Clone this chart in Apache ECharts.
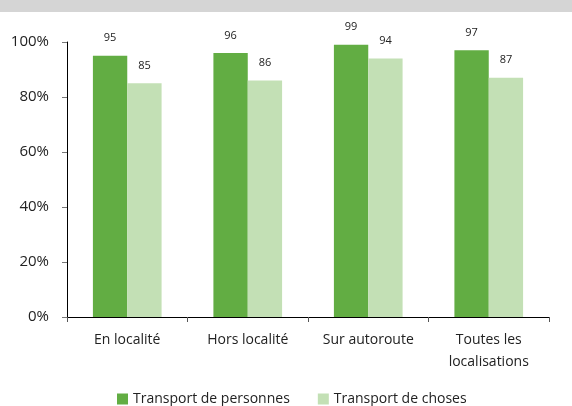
<!DOCTYPE html>
<html>
<head>
<meta charset="utf-8">
<script src="https://cdn.jsdelivr.net/npm/echarts@6/dist/echarts.min.js"></script>
<style>
  html, body { margin: 0; padding: 0; background: #fff; }
  #topBand { position: absolute; left: 0; top: 0; width: 572px; height: 12px; background: #d5d5d5; }
  #chart { width: 572px; height: 406px; }
</style>
</head>
<body>
<div id="topBand"></div>
<div id="chart"></div>
<script>
// catégories et valeurs (en %)
const categories = ['En localité', 'Hors localité', 'Sur autoroute', 'Toutes les\nlocalisations']
const personnes = [95, 96, 99, 97]
const choses = [85, 86, 94, 87]
const yTicks = [0, 20, 40, 60, 80, 100]

const font = 'Open Sans'
const chart = echarts.init(document.getElementById('chart'))

const labelStyle = {
  show: true,
  position: 'top',
  distance: 12,
  fontFamily: font,
  fontSize: 11,
  color: '#222'
}

chart.setOption({
  animation: false,
  grid: { left: 67, right: 23, top: 42, bottom: 89 },
  legend: {
    top: 387,
    left: 112,
    itemWidth: 11,
    itemHeight: 11,
    itemGap: 28,
    icon: 'rect',
    textStyle: { fontFamily: font, fontSize: 14, color: '#222' },
    data: ['Transport de personnes', 'Transport de choses']
  },
  xAxis: {
    type: 'category',
    data: categories,
    axisLine: { lineStyle: { color: '#000', width: 1 } },
    axisTick: { show: true, length: 5, lineStyle: { color: '#555' } },
    axisLabel: { fontFamily: font, fontSize: 14, color: '#222', margin: 12, lineHeight: 22 }
  },
  yAxis: {
    type: 'value',
    min: 0,
    max: 100,
    interval: 20,
    splitLine: { show: false },
    axisLine: { show: true, lineStyle: { color: '#000', width: 1 } },
    axisTick: { show: true, length: 5, lineStyle: { color: '#777' } },
    axisLabel: {
      fontFamily: font, fontSize: 15, color: '#222', margin: 18,
      formatter: v => yTicks.includes(v) ? v + '%' : ''
    }
  },
  series: [
    {
      name: 'Transport de personnes',
      type: 'bar',
      data: personnes,
      barGap: '0%',
      barCategoryGap: '43%',
      itemStyle: { color: '#62ad43' },
      label: labelStyle
    },
    {
      name: 'Transport de choses',
      type: 'bar',
      data: choses,
      itemStyle: { color: '#c3e0b5' },
      label: labelStyle
    }
  ]
})
</script>
</body>
</html>
